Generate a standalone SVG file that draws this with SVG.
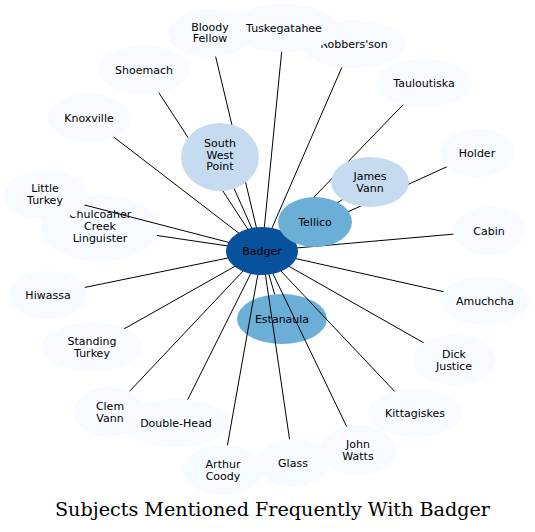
<svg xmlns="http://www.w3.org/2000/svg" width="535" height="532" viewBox="0 0 535 532">
<style>
.n text{font-family:"DejaVu Sans",sans-serif;font-size:11px;fill:#000;text-anchor:middle}
.c0{fill:#f7fbff}
.c1{fill:#c6dbef}
.c2{fill:#6baed6}
.c3{fill:#08519c}
#edges line{stroke:#000;stroke-width:1}
.title{font-family:"DejaVu Serif",serif;font-size:18px;fill:#000;text-anchor:middle}
</style>
<rect width="535" height="532" fill="#fff"/>
<g class="n" id="chulcoaher"><ellipse class="c0" cx="100" cy="228" rx="59" ry="33"/><text x="100" y="218">Chulcoaher</text><text x="100" y="230">Creek</text><text x="100" y="242">Linguister</text></g>
<g class="n" id="estanaula"><ellipse class="c2" cx="282" cy="319" rx="45" ry="25"/><text x="282" y="323">Estanaula</text></g>
<g id="edges">
<line x1="262" y1="251" x2="210" y2="33"/>
<line x1="262" y1="251" x2="284" y2="28"/>
<line x1="262" y1="251" x2="352" y2="44"/>
<line x1="262" y1="251" x2="144" y2="70"/>
<line x1="262" y1="251" x2="89" y2="118"/>
<line x1="262" y1="251" x2="424" y2="83"/>
<line x1="262" y1="251" x2="477" y2="153"/>
<line x1="262" y1="251" x2="370" y2="182"/>
<line x1="262" y1="251" x2="315" y2="222"/>
<line x1="262" y1="251" x2="220" y2="157"/>
<line x1="262" y1="251" x2="46" y2="195"/>
<line x1="262" y1="251" x2="157" y2="235.5"/>
<line x1="262" y1="251" x2="48" y2="295"/>
<line x1="262" y1="251" x2="92" y2="347"/>
<line x1="262" y1="251" x2="110" y2="412"/>
<line x1="262" y1="251" x2="176" y2="423"/>
<line x1="262" y1="251" x2="223" y2="470"/>
<line x1="262" y1="251" x2="293" y2="463"/>
<line x1="262" y1="251" x2="358" y2="450"/>
<line x1="262" y1="251" x2="415" y2="413"/>
<line x1="262" y1="251" x2="454" y2="360"/>
<line x1="262" y1="251" x2="485" y2="301"/>
<line x1="262" y1="251" x2="489" y2="231"/>
<line x1="262" y1="251" x2="274.7" y2="294.3"/>
</g>
<g class="n" id="bloodyfellow"><ellipse class="c0" cx="210" cy="33" rx="42" ry="24"/><text x="210" y="30.5">Bloody</text><text x="210" y="42.2">Fellow</text></g>
<g class="n" id="robbersson"><ellipse class="c0" cx="353" cy="44" rx="52" ry="24"/><text x="354" y="48">Robbers'son</text></g>
<g class="n" id="tuskegatahee"><ellipse class="c0" cx="284" cy="28" rx="55" ry="24"/><text x="284" y="32">Tuskegatahee</text></g>
<g class="n" id="shoemach"><ellipse class="c0" cx="144" cy="70" rx="46" ry="24"/><text x="144" y="74">Shoemach</text></g>
<g class="n" id="knoxville"><ellipse class="c0" cx="89" cy="118" rx="41" ry="24"/><text x="89" y="122">Knoxville</text></g>
<g class="n" id="tauloutiska"><ellipse class="c0" cx="424" cy="83" rx="48" ry="24"/><text x="424" y="87">Tauloutiska</text></g>
<g class="n" id="holder"><ellipse class="c0" cx="477" cy="153" rx="37" ry="24"/><text x="477" y="157">Holder</text></g>
<g class="n" id="littleturkey"><ellipse class="c0" cx="46" cy="195" rx="42" ry="25"/><text x="45" y="192">Little</text><text x="45" y="203.7">Turkey</text></g>
<g class="n" id="hiwassa"><ellipse class="c0" cx="48" cy="295" rx="39" ry="24"/><text x="48" y="299">Hiwassa</text></g>
<g class="n" id="standingturkey"><ellipse class="c0" cx="92" cy="347" rx="50" ry="24"/><text x="92" y="345">Standing</text><text x="92" y="356.7">Turkey</text></g>
<g class="n" id="clemvann"><ellipse class="c0" cx="110" cy="412" rx="36" ry="25"/><text x="110" y="410">Clem</text><text x="110" y="421.7">Vann</text></g>
<g class="n" id="doublehead"><ellipse class="c0" cx="176" cy="423" rx="53" ry="24"/><text x="176" y="427">Double-Head</text></g>
<g class="n" id="arthurcoody"><ellipse class="c0" cx="223" cy="470" rx="40" ry="25"/><text x="223" y="468">Arthur</text><text x="223" y="479.7">Coody</text></g>
<g class="n" id="glass"><ellipse class="c0" cx="293" cy="463" rx="36" ry="24"/><text x="293" y="467">Glass</text></g>
<g class="n" id="johnwatts"><ellipse class="c0" cx="358" cy="450" rx="38" ry="25"/><text x="358" y="448">John</text><text x="358" y="459.7">Watts</text></g>
<g class="n" id="kittagiskes"><ellipse class="c0" cx="415" cy="413" rx="47" ry="24"/><text x="415" y="417">Kittagiskes</text></g>
<g class="n" id="dickjustice"><ellipse class="c0" cx="454" cy="360" rx="42" ry="25"/><text x="454" y="358">Dick</text><text x="454" y="369.7">Justice</text></g>
<g class="n" id="amuchcha"><ellipse class="c0" cx="485" cy="301" rx="45" ry="24"/><text x="485" y="305">Amuchcha</text></g>
<g class="n" id="cabin"><ellipse class="c0" cx="489" cy="231" rx="36" ry="24"/><text x="489" y="235">Cabin</text></g>
<g class="n" id="southwestpoint"><ellipse class="c1" cx="220" cy="157" rx="39" ry="34"/><text x="220" y="147">South</text><text x="220" y="158.7">West</text><text x="220" y="170.4">Point</text></g>
<g class="n" id="jamesvann"><ellipse class="c1" cx="370" cy="182" rx="39" ry="25"/><text x="370" y="180">James</text><text x="370" y="191.7">Vann</text></g>
<g class="n" id="badger"><ellipse class="c3" cx="262" cy="251" rx="36" ry="24"/><text x="262" y="255">Badger</text></g>
<g class="n" id="tellico"><ellipse class="c2" cx="315" cy="222" rx="37" ry="25"/><text x="315" y="226">Tellico</text></g>
<text class="title" x="272.5" y="516" textLength="435" lengthAdjust="spacingAndGlyphs">Subjects Mentioned Frequently With Badger</text>
</svg>
